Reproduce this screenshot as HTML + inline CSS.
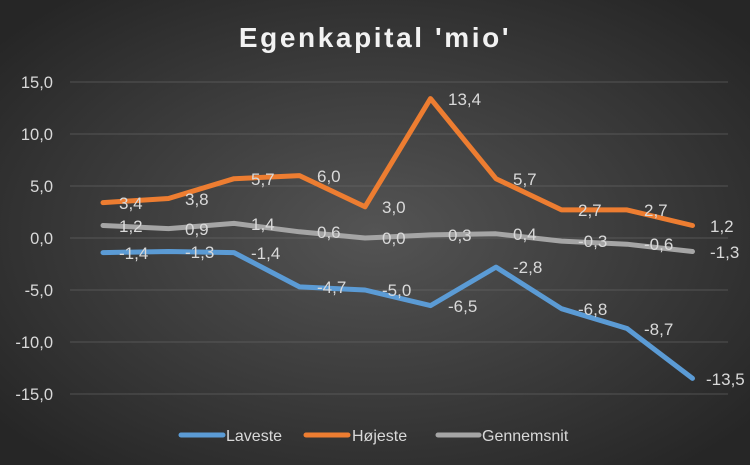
<!DOCTYPE html>
<html><head><meta charset="utf-8"><style>
html,body{margin:0;padding:0;}
body{width:750px;height:465px;overflow:hidden;}
svg{display:block;font-family:"Liberation Sans",sans-serif;}
</style></head><body>
<svg width="750" height="465" viewBox="0 0 750 465">
<defs>
<radialGradient id="bg" cx="50%" cy="50%" r="65%">
<stop offset="0" stop-color="#545454"/>
<stop offset="1" stop-color="#262626"/>
</radialGradient>
</defs>
<rect width="750" height="465" fill="url(#bg)"/>
<text x="375" y="47" text-anchor="middle" font-size="28" font-weight="bold" fill="#f2f2f2" letter-spacing="2.6">Egenkapital 'mio'</text>
<g stroke="#6a6a6a" stroke-width="1" opacity="0.6">
<line x1="70" y1="82" x2="728" y2="82"/>
<line x1="70" y1="134" x2="728" y2="134"/>
<line x1="70" y1="186" x2="728" y2="186"/>
<line x1="70" y1="238" x2="728" y2="238"/>
<line x1="70" y1="290" x2="728" y2="290"/>
<line x1="70" y1="342" x2="728" y2="342"/>
<line x1="70" y1="394" x2="728" y2="394"/>
</g>
<g font-size="16.5" fill="#d9d9d9" text-anchor="end">
<text x="53" y="88">15,0</text>
<text x="53" y="140">10,0</text>
<text x="53" y="192">5,0</text>
<text x="53" y="244">0,0</text>
<text x="53" y="296">-5,0</text>
<text x="53" y="348">-10,0</text>
<text x="53" y="400">-15,0</text>
</g>
<g fill="none" stroke-width="5" stroke-linejoin="round" stroke-linecap="round">
<polyline stroke="#a5a5a5" points="103,225.5 168.5,228.6 234,223.4 299.5,231.8 365,238 430.5,234.9 496,233.8 561.5,241.1 627,244.2 692.5,251.5"/>
<polyline stroke="#5b9bd5" points="103,252.6 168.5,251.5 234,252.6 299.5,286.9 365,290 430.5,305.6 496,267.1 561.5,308.7 627,328.5 692.5,378.4"/>
<polyline stroke="#ed7d31" points="103,202.6 168.5,198.5 234,178.7 299.5,175.6 365,206.8 430.5,98.6 496,178.7 561.5,209.9 627,209.9 692.5,225.5"/>
</g>
<g font-size="17" fill="#d9d9d9">
<text x="119" y="209">3,4</text><text x="185" y="205">3,8</text><text x="251" y="185">5,7</text><text x="317" y="182">6,0</text><text x="382" y="213">3,0</text><text x="448" y="105">13,4</text><text x="513" y="185">5,7</text><text x="578" y="216">2,7</text><text x="644" y="216">2,7</text><text x="710" y="232">1,2</text>
<text x="119" y="232">1,2</text><text x="185" y="235">0,9</text><text x="251" y="230">1,4</text><text x="317" y="238">0,6</text><text x="382" y="244">0,0</text><text x="448" y="241">0,3</text><text x="513" y="240">0,4</text><text x="578" y="247">-0,3</text><text x="644" y="250">-0,6</text><text x="710" y="258">-1,3</text>
<text x="119" y="259">-1,4</text><text x="185" y="258">-1,3</text><text x="251" y="259">-1,4</text><text x="317" y="293">-4,7</text><text x="382" y="296">-5,0</text><text x="448" y="312">-6,5</text><text x="513" y="273">-2,8</text><text x="578" y="315">-6,8</text><text x="644" y="335">-8,7</text><text x="706" y="385">-13,5</text>
</g>
<g stroke-width="5" stroke-linecap="round">
<line x1="181" y1="435" x2="223" y2="435" stroke="#5b9bd5"/>
<line x1="306" y1="435" x2="348" y2="435" stroke="#ed7d31"/>
<line x1="438" y1="435" x2="479" y2="435" stroke="#a5a5a5"/>
</g>
<g font-size="16" fill="#d9d9d9">
<text x="226" y="441">Laveste</text>
<text x="352" y="441">Højeste</text>
<text x="482" y="441">Gennemsnit</text>
</g>
</svg>
</body></html>
